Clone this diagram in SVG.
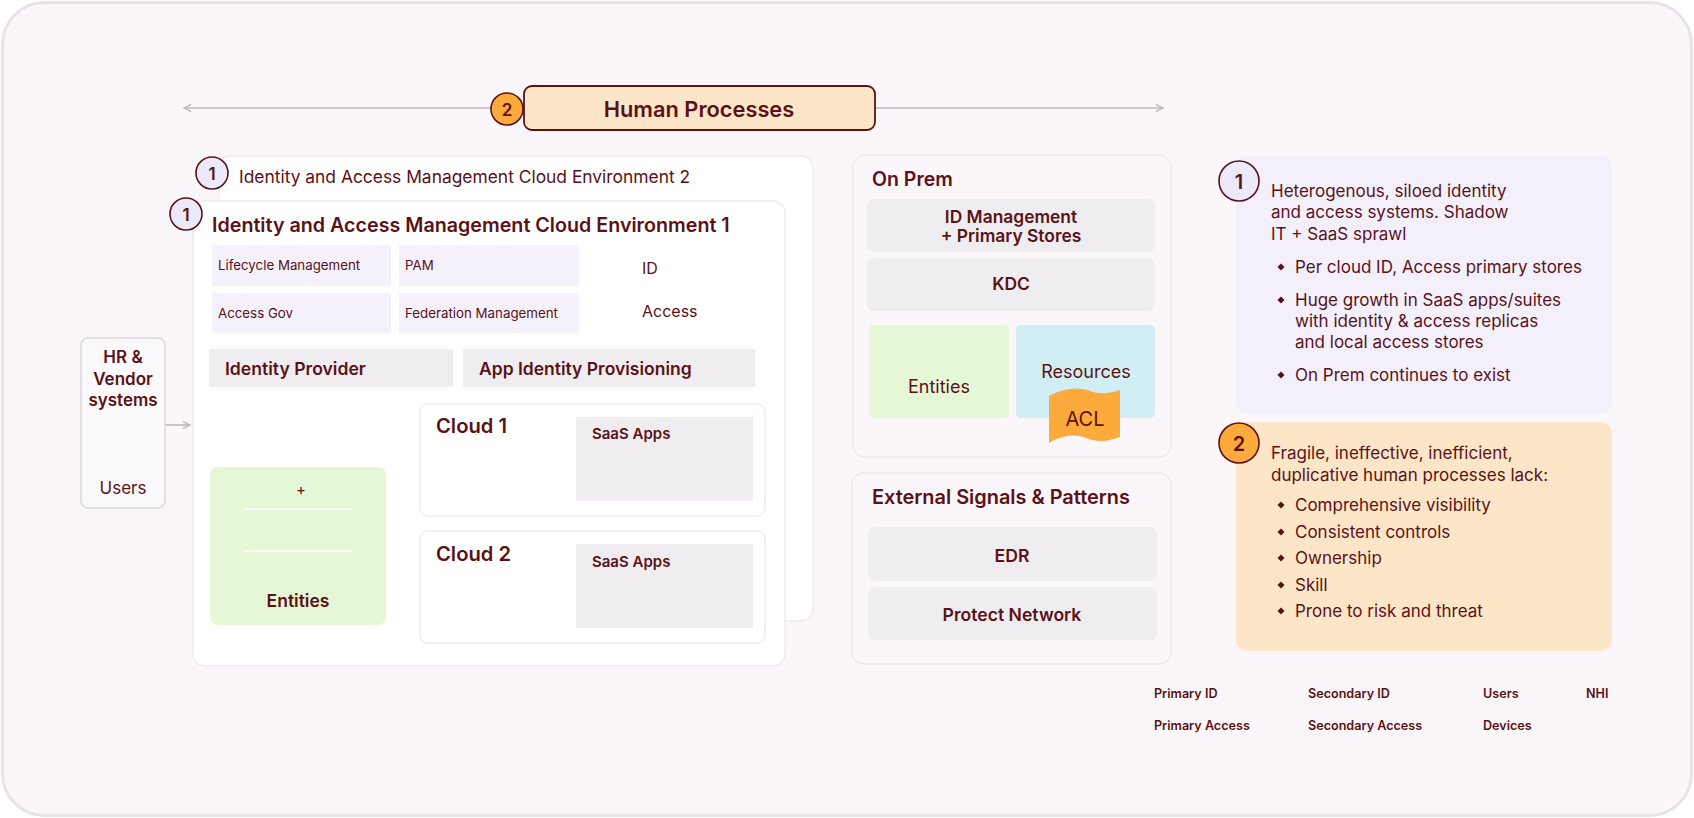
<svg xmlns="http://www.w3.org/2000/svg" width="1694" height="818" viewBox="0 0 1694 818">
<style>
text{font-family:Inter,"Open Sans","Liberation Sans",sans-serif;fill:#5a1216}
.b{font-weight:600}
.panel{fill:#ffffff;stroke:#efeaee;stroke-width:1.5}
.sub{fill:#faf6fa;stroke:#eee9ed;stroke-width:1.5}
.lav{fill:#f4f1fc}
.gray{fill:#efedf0}
.green{fill:#e6f7d5}
.c1{fill:#ece9fb;stroke:#5a1216;stroke-width:1.6}
.c2{fill:#fcaa3b;stroke:#5a1216;stroke-width:1.6}
.conn{stroke:#bdb8be;stroke-width:1.6;fill:none}
.num{font-weight:600;text-anchor:middle}
.mid{text-anchor:middle}
.dia{fill:#5a1216}
.leg{font-weight:600;font-size:12.6px}
</style>
<defs>
<marker id="ah" viewBox="0 0 10 10" refX="9" refY="5" markerWidth="9" markerHeight="9" markerUnits="userSpaceOnUse" orient="auto-start-reverse">
<path d="M1,1 L9,5 L1,9" fill="none" stroke="#bdb8be" stroke-width="1.6"/>
</marker>
</defs>
<rect x="2.5" y="2.5" width="1689" height="813" rx="42" fill="#faf6fa" stroke="#e9e3e7" stroke-width="3"/>

<g id="connectors">
<line class="conn" x1="184" y1="108" x2="1163" y2="108" marker-start="url(#ah)" marker-end="url(#ah)"/>
<line class="conn" x1="165" y1="425" x2="190" y2="425" marker-end="url(#ah)"/>
</g>

<g id="human-processes">
<rect x="524" y="86" width="351" height="44" rx="8" fill="#fde5c7" stroke="#5a1216" stroke-width="1.8"/>
<text class="b mid" x="699" y="117" font-size="21.8">Human Processes</text>
<circle class="c2" cx="507" cy="109" r="16"/>
<text class="num" x="507" y="115.5" font-size="17">2</text>
</g>

<g id="iam-env2">
<rect class="panel" x="219" y="156" width="594" height="465" rx="12"/>
<circle class="c1" cx="212" cy="173" r="16"/>
<text class="num" x="212" y="179.5" font-size="17">1</text>
<text x="239" y="183" font-size="17.4">Identity and Access Management Cloud Environment 2</text>
</g>

<g id="iam-env1">
<rect class="panel" x="193" y="201" width="592" height="465" rx="12"/>
<circle class="c1" cx="186" cy="214" r="16"/>
<text class="num" x="186" y="220.5" font-size="17">1</text>
<text class="b" x="212" y="232" font-size="19.7">Identity and Access Management Cloud Environment 1</text>
</g>

<g id="lifecycle"><rect class="lav" x="212" y="245" width="179" height="41"/><text x="218" y="270" font-size="13.3">Lifecycle Management</text></g>
<g id="pam"><rect class="lav" x="399" y="245" width="180" height="41"/><text x="405" y="270" font-size="13.3">PAM</text></g>
<g id="access-gov"><rect class="lav" x="212" y="293" width="179" height="40"/><text x="218" y="318" font-size="13.3">Access Gov</text></g>
<g id="federation"><rect class="lav" x="399" y="293" width="180" height="40"/><text x="405" y="318" font-size="13.3">Federation Management</text></g>
<g id="id-label"><text x="642" y="274" font-size="16">ID</text></g>
<g id="access-label"><text x="642" y="317" font-size="16">Access</text></g>

<g id="identity-provider"><rect class="gray" x="209" y="349" width="244" height="38"/><text class="b" x="225" y="375" font-size="17.6">Identity Provider</text></g>
<g id="app-provisioning"><rect class="gray" x="463" y="349" width="292" height="38"/><text class="b" x="479" y="375" font-size="17.5">App Identity Provisioning</text></g>

<g id="entities-cloud">
<rect class="green" x="210" y="467" width="176" height="158" rx="8"/>
<text class="mid" x="301" y="495" font-size="15">+</text>
<line x1="243" y1="509" x2="352" y2="509" stroke="#ffffff" stroke-width="1.5"/>
<line x1="243" y1="551" x2="352" y2="551" stroke="#ffffff" stroke-width="1.5"/>
<text class="b mid" x="298" y="607" font-size="17.5">Entities</text>
</g>

<g id="cloud1">
<rect class="panel" x="420" y="404" width="345" height="112" rx="8"/>
<text class="b" x="436" y="433" font-size="20.2">Cloud 1</text>
<rect class="gray" x="576" y="417" width="177" height="84"/>
<text class="b" x="592" y="439" font-size="15">SaaS Apps</text>
</g>

<g id="cloud2">
<rect class="panel" x="420" y="531" width="345" height="112" rx="8"/>
<text class="b" x="436" y="561" font-size="20.2">Cloud 2</text>
<rect class="gray" x="576" y="544" width="177" height="84"/>
<text class="b" x="592" y="567" font-size="15">SaaS Apps</text>
</g>

<g id="hr-vendor">
<rect x="81" y="338" width="84" height="170" rx="7" fill="#fcf9fc" stroke="#ddd7dc" stroke-width="1.5"/>
<text class="b mid" x="123" y="363" font-size="17">HR &amp;</text>
<text class="b mid" x="123" y="385" font-size="17">Vendor</text>
<text class="b mid" x="123" y="406" font-size="17">systems</text>
<text class="mid" x="123" y="494" font-size="17">Users</text>
</g>

<g id="on-prem">
<rect class="sub" x="853" y="155" width="318" height="302" rx="12"/>
<text class="b" x="872" y="186" font-size="19.5">On Prem</text>
</g>
<g id="id-management"><rect class="gray" x="867" y="199" width="288" height="53" rx="7"/><text class="b mid" x="1011" y="223" font-size="17.4">ID Management</text><text class="b mid" x="1011" y="242" font-size="17.4">+ Primary Stores</text></g>
<g id="kdc"><rect class="gray" x="867" y="258" width="288" height="53" rx="7"/><text class="b mid" x="1011" y="290" font-size="17.4">KDC</text></g>
<g id="entities-onprem"><rect class="green" x="869" y="325" width="140" height="93" rx="5"/><text class="mid" x="939" y="393" font-size="18">Entities</text></g>
<g id="resources"><rect x="1016" y="325" width="139" height="93" rx="5" fill="#d2eef5"/><text class="mid" x="1086" y="378" font-size="18">Resources</text></g>
<g id="acl">
<path d="M1049,396 C1063,389 1076,386 1090,391 C1101,395 1111,393 1120,390 L1120,437 C1109,441 1098,443 1086,438 C1073,433 1061,436 1049,443 Z" fill="#fcaa3b"/>
<text class="mid" x="1085" y="426" font-size="20">ACL</text>
</g>

<g id="external-signals">
<rect class="sub" x="852" y="473" width="319" height="191" rx="12"/>
<text class="b" x="872" y="504" font-size="19.9">External Signals &amp; Patterns</text>
</g>
<g id="edr"><rect class="gray" x="868" y="527" width="289" height="54" rx="7"/><text class="b mid" x="1012" y="562" font-size="17.6">EDR</text></g>
<g id="protect-network"><rect class="gray" x="868" y="587" width="289" height="53" rx="7"/><text class="b mid" x="1012" y="621" font-size="17.6">Protect Network</text></g>

<g id="note1">
<rect x="1236" y="156" width="376" height="258" rx="12" fill="#f3f0fc"/>
<circle class="c1" cx="1239" cy="181" r="20"/>
<text class="num" x="1239" y="188.5" font-size="20">1</text>
<text x="1271" y="197" font-size="17">Heterogenous, siloed identity</text>
<text x="1271" y="218" font-size="17">and access systems. Shadow</text>
<text x="1271" y="240" font-size="17">IT + SaaS sprawl</text>
<rect class="dia" x="1278.5" y="264.5" width="5" height="5" transform="rotate(45 1281 267)"/>
<text x="1295" y="273" font-size="17">Per cloud ID, Access primary stores</text>
<rect class="dia" x="1278.5" y="297.5" width="5" height="5" transform="rotate(45 1281 300)"/>
<text x="1295" y="306" font-size="17">Huge growth in SaaS apps/suites</text>
<text x="1295" y="327" font-size="17">with identity &amp; access replicas</text>
<text x="1295" y="348" font-size="17">and local access stores</text>
<rect class="dia" x="1278.5" y="372.5" width="5" height="5" transform="rotate(45 1281 375)"/>
<text x="1295" y="381" font-size="17">On Prem continues to exist</text>
</g>

<g id="note2">
<rect x="1236" y="422" width="376" height="229" rx="12" fill="#fde5c8"/>
<circle class="c2" cx="1239" cy="443" r="20"/>
<text class="num" x="1239" y="450.5" font-size="20">2</text>
<text x="1271" y="459" font-size="17">Fragile, ineffective, inefficient,</text>
<text x="1271" y="481" font-size="17">duplicative human processes lack:</text>
<rect class="dia" x="1278.5" y="502.5" width="5" height="5" transform="rotate(45 1281 505)"/>
<text x="1295" y="511" font-size="17">Comprehensive visibility</text>
<rect class="dia" x="1278.5" y="529.5" width="5" height="5" transform="rotate(45 1281 532)"/>
<text x="1295" y="538" font-size="17">Consistent controls</text>
<rect class="dia" x="1278.5" y="555.5" width="5" height="5" transform="rotate(45 1281 558)"/>
<text x="1295" y="564" font-size="17">Ownership</text>
<rect class="dia" x="1278.5" y="582.5" width="5" height="5" transform="rotate(45 1281 585)"/>
<text x="1295" y="591" font-size="17">Skill</text>
<rect class="dia" x="1278.5" y="608.5" width="5" height="5" transform="rotate(45 1281 611)"/>
<text x="1295" y="617" font-size="17">Prone to risk and threat</text>
</g>

<g id="legend">
<text class="leg" x="1154" y="698">Primary ID</text>
<text class="leg" x="1154" y="730">Primary Access</text>
<text class="leg" x="1308" y="698">Secondary ID</text>
<text class="leg" x="1308" y="730">Secondary Access</text>
<text class="leg" x="1483" y="698">Users</text>
<text class="leg" x="1483" y="730">Devices</text>
<text class="leg" x="1586" y="698">NHI</text>
</g>
</svg>
